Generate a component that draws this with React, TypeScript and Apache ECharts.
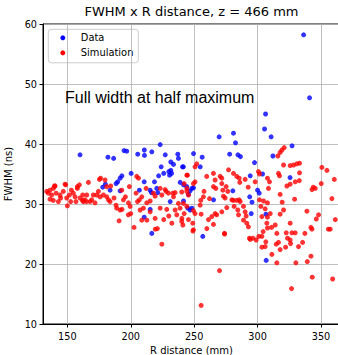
import React, { useEffect, useRef } from "react";
import * as echarts from "echarts";

const titleText = "FWHM x R distance, z = 466 mm";
const annotationText = "Full width at half maximum";
const xAxisName = "R distance (mm)";
const yAxisName = "FWHM (ns)";
const seriesNames = ["Data", "Simulation"];
const seriesColors = ["#0000ff", "#ff0000"];
const xTicks = [150, 200, 250, 300, 350];
const yTicks = [10, 20, 30, 40, 50, 60];

const dataPoints: [number, number][] = [
  [160, 38.2], [182, 37.8], [186.5, 37.6], [194.7, 38.9], [196.8, 38.8], [205.5, 38.3], [210.7, 39], [210.8, 38.1],
  [216.6, 38.7], [223.2, 39.9], [227.2, 38.2], [237.1, 38.3], [237.6, 37.6], [231.6, 37], [224, 36.2], [226, 35.1],
  [230, 35.4], [231.6, 35.6], [232.2, 35.1], [230.6, 34.8], [222, 34.7], [218.7, 33.7], [210.6, 33.7], [200.3, 35.1],
  [193, 34.7], [191.6, 34.3], [189.7, 33.7], [188.4, 33.4], [180, 33.3], [177.9, 32.8], [183.7, 32.3], [191.6, 32.2],
  [206.8, 32.3], [215.3, 32.3], [216.3, 31.9], [220.5, 32.6], [221.3, 31.9], [233.7, 36.6], [240.8, 36.2], [239, 33.6],
  [241.6, 33.2], [244.2, 32.9], [248.2, 32.6], [249.5, 32.7], [246.8, 32.2], [245.5, 31.6], [241.6, 30.5], [245, 29.3],
  [248.2, 29.3], [246.8, 29], [231.1, 30.4], [215.3, 29.1], [210.6, 27.8], [216.6, 25.1], [249.5, 38.4], [256.3, 37.8],
  [254.8, 36.2], [241.5, 36.2], [269.7, 41.2], [281, 41.8], [282.6, 40.2], [278, 38.3], [284.5, 38.2], [286.5, 37.9],
  [265.3, 30.7], [280.5, 32.2], [297.6, 36.9], [294.2, 34.7], [303.9, 35], [300, 32.3], [301.3, 31.8], [293.8, 31.2],
  [295.6, 30.3], [295, 28.4], [306.6, 28.3], [312.1, 38], [310.7, 41.2], [327.2, 39.7], [325.6, 34.4], [256.8, 24.6],
  [306.8, 20.6], [305.5, 42.5], [306.3, 45], [341, 47.7], [336.3, 58.2],
];

const simPoints: [number, number][] = [
  [133.7, 32.1], [135, 31.8], [136.3, 32.3], [137.6, 31.5], [138.9, 32.6], [140.3, 33], [136.3, 30.8], [138.9, 30.6],
  [141.1, 31.8], [142.9, 30.4], [144.2, 31.5], [144.7, 31], [146.8, 32.1], [148.2, 33.3], [149.5, 31], [150, 29.7],
  [151.6, 31.5], [152.6, 30.4], [154.7, 31.8], [156.1, 31.2], [156.8, 30.4], [157.9, 32.6], [159.5, 33.2], [160, 31],
  [162.1, 31.5], [162.6, 30.4], [163.9, 30.7], [166.6, 33.6], [165.3, 31.5], [167.9, 30.4], [169.2, 30.7], [170.5, 31.5],
  [171.8, 30.2], [173.2, 31.5], [174.5, 32.1], [175.3, 34.1], [175.8, 31.2], [178.4, 31.5], [179.7, 34], [181.1, 31.2],
  [182.4, 30.7], [183.7, 30.4], [184.2, 33], [186.8, 31], [188.9, 29.3], [191.6, 29], [190.8, 27.2], [192.9, 32.3],
  [194.2, 30.7], [195.8, 31.2], [198.2, 30.2], [199.5, 29.6], [200, 28.4], [198.9, 32.9], [202.6, 26.1], [204.7, 34.6],
  [206.1, 34.3], [206.8, 30.7], [208.7, 31.2], [207.4, 29], [210, 29.3], [212.1, 32.6], [212.6, 30.2], [215.3, 28.7],
  [219.2, 31.3], [219.3, 25.8], [221, 25.9], [217.9, 31.8], [223.2, 29.3], [224.5, 23.3], [227.1, 32.4], [228.4, 29.1],
  [229.7, 31.8], [233.2, 31.8], [233.7, 31.2], [235, 29], [237.6, 30.1], [236.3, 28.2], [238.9, 29.3], [232.4, 26.8],
  [240.3, 27.6], [241.1, 26.5], [244.2, 34.8], [245.5, 31.5], [244.2, 29.6], [245.5, 27.4], [242.1, 33.4],
  [223.2, 32.6], [224.5, 31.5], [227.9, 32.1], [235, 31.9], [215.3, 30.5], [219.2, 27.6], [212.7, 27.3], [230, 28],
  [226, 27.4], [139.9, 33], [148.7, 33.2], [153.2, 32.3], [157.9, 32.9], [161.9, 30.6], [165.1, 30.4], [176.2, 34.3],
  [181, 32.9], [188.4, 29.8], [193.1, 29.1], [198.1, 28.2], [204.2, 31.8], [205.3, 30.4], [208.7, 27.3],
  [316, 38], [317.8, 38.6], [319.2, 39], [321, 39.4], [320.5, 36.5], [325.7, 36.4], [328.4, 36.5], [331, 36.7],
  [333.1, 36.8], [333.1, 35.2], [316.5, 35.1], [317.3, 34.7], [329.7, 33.7], [332.9, 33.9], [323.1, 33], [325.7, 33.3],
  [350.7, 36.1], [354.7, 35.6], [350.2, 33.4], [345.5, 32.6], [342.9, 32.4], [358.6, 30.9], [317.8, 31.6], [329.2, 30.8],
  [338.9, 28.8], [346.3, 27.5], [348.1, 28.2], [361.3, 27.4], [357.3, 25.8], [342.9, 25.8], [325.7, 26.8], [317.8, 28.3],
  [320.5, 29], [310, 28.4], [307.8, 27.8], [313.9, 26.5], [322.6, 25.2], [327.1, 25.2], [329.7, 25.2], [323.6, 24.3],
  [325.7, 24], [332.3, 22.9], [316.5, 23.6], [315.2, 25.1], [306, 22.9], [301, 24.6], [298.9, 24], [296.3, 24.3],
  [294.2, 24.1], [307.8, 26], [303.4, 27.9], [307.3, 26.8], [306, 29.2], [301.5, 30.7], [304.7, 30.5], [307.8, 30.2],
  [302.6, 29.6], [290.2, 28.7], [291, 28], [288.9, 29.6], [286.3, 30.4], [285.5, 30.7], [283.6, 30.6], [281, 30.6],
  [279.7, 30.7], [281.5, 29.6], [284.4, 29], [288.9, 27.3], [291.5, 26.8], [292.8, 26.2], [285, 28.2], [273.1, 31.3],
  [274.4, 31], [275.7, 29.4], [271.8, 28.7], [267.8, 28.2], [266.5, 28.4], [263.9, 27.9], [261.3, 27.4], [255.5, 28.3],
  [249.4, 28.9], [250.7, 28.4], [242.1, 28.4], [240.2, 27.1], [248.9, 26.8], [249.4, 25.7], [260, 25.9], [265.2, 26.6],
  [273.9, 25.1], [293.6, 24.3], [303.4, 24.6], [306.5, 23.7], [241.5, 30.1], [240.2, 32], [244.2, 32.6], [244.2, 32.1],
  [249.4, 33.4], [250.7, 33.7], [257.8, 32.1], [257.3, 31.2], [255.2, 30.6], [254.7, 29.8], [262.1, 30.9], [265.2, 32.9],
  [267.1, 32.6], [266.5, 34], [270.5, 34.6], [271.8, 34.3], [277.1, 35.7], [281, 35.1], [283.6, 34.6], [285.5, 34.3],
  [265.2, 35.1], [259.9, 34.6], [244.7, 34.8], [252, 36.7], [250.7, 36.2], [271.8, 33.4], [275.2, 32.9], [276.5, 32.1],
  [272.6, 32.3], [300.7, 35.4], [301.5, 35], [307.8, 34.3], [309.4, 33.7], [308.6, 32.6], [298.1, 33.7], [290.2, 34.1],
  [360.5, 34.1], [343.9, 32.8], [355.8, 25.8], [342.1, 26.1], [319.4, 30.3], [292.6, 32.8], [286, 33.6],
  [303.4, 22.8], [314.7, 23.3], [317.8, 22.4], [322.1, 22.8], [326, 23.4], [335.5, 23.6], [311.3, 21.6], [315.2, 20.2],
  [330.2, 20.2], [339.2, 20.4], [342.1, 21.3], [343.1, 17.8], [359.2, 17.5], [326.8, 15.9], [270, 18.9], [255.5, 13.1],
  [304.4, 25.4], [311, 26.1], [337.3, 25.1], [274, 25], [249, 25.5],
];

export default function App() {
  const ref = useRef<HTMLDivElement>(null);
  useEffect(() => {
    if (!ref.current) return;
    const chart = echarts.init(ref.current, null, { renderer: "svg" });
    const font = "DejaVu Sans";
    const legendChildren: any[] = [
      {
        type: "rect",
        shape: { x: 0, y: 0, width: 90, height: 33.5, r: 3 },
        style: { fill: "rgba(255,255,255,0.85)", stroke: "#cccccc", lineWidth: 1 },
      },
    ];
    seriesNames.forEach((name, i) => {
      legendChildren.push({
        type: "circle",
        shape: { cx: 14.5, cy: 8.5 + i * 15, r: 2.5 },
        style: { fill: seriesColors[i] },
      });
      legendChildren.push({
        type: "text",
        x: 32.5,
        y: 8.5 + i * 15,
        style: {
          text: name,
          fontSize: 9.9,
          fontFamily: font,
          fill: "#000",
          verticalAlign: "middle",
        },
      });
    });
    chart.setOption({
      animation: false,
      backgroundColor: "#ffffff",
      title: {
        text: titleText,
        left: 191.5,
        top: 5,
        padding: 0,
        textAlign: "center",
        textStyle: { fontSize: 13, fontWeight: "normal", fontFamily: font, color: "#000" },
      },
      grid: {
        left: 43,
        top: 24,
        width: 297,
        height: 300,
        outerBoundsMode: "none",
        containLabel: false,
        show: true,
        borderColor: "#000",
        borderWidth: 1,
        backgroundColor: "transparent",
      },
      xAxis: {
        type: "value",
        min: 130.8,
        max: 365,
        name: xAxisName,
        nameLocation: "middle",
        nameGap: 21,
        nameTextStyle: { fontSize: 10, fontFamily: font, color: "#000" },
        axisLine: { show: true, lineStyle: { color: "#000", width: 1 } },
        axisTick: { show: true, length: 3.5, customValues: xTicks, lineStyle: { color: "#000" } },
        axisLabel: { customValues: xTicks, fontSize: 9.7, fontFamily: font, color: "#000", margin: 7 },
        splitLine: { show: true, lineStyle: { color: "#b0b0b0", width: 0.8 } },
      },
      yAxis: {
        type: "value",
        min: yTicks[0],
        max: yTicks[yTicks.length - 1],
        interval: 10,
        name: yAxisName,
        nameLocation: "middle",
        nameGap: 23,
        nameTextStyle: { fontSize: 10, fontFamily: font, color: "#000" },
        axisLine: { show: true, lineStyle: { color: "#000", width: 1 } },
        axisTick: { show: true, length: 3.5, lineStyle: { color: "#000" } },
        axisLabel: { fontSize: 9.7, fontFamily: font, color: "#000", margin: 6 },
        splitLine: { show: true, lineStyle: { color: "#b0b0b0", width: 0.8 } },
      },
      graphic: [
        {
          type: "group",
          x: 48.3,
          y: 29.3,
          z: 20,
          children: legendChildren,
        },
        {
          type: "text",
          x: 65,
          y: 97,
          z: 10,
          style: {
            text: annotationText,
            fontSize: 16,
            fontFamily: "Liberation Sans",
            fill: "#000",
            verticalAlign: "middle",
          },
        },
      ],
      series: [
        {
          name: seriesNames[0],
          type: "scatter",
          data: dataPoints,
          symbol: "circle",
          symbolSize: 5,
          itemStyle: { color: seriesColors[0] },
        },
        {
          name: seriesNames[1],
          type: "scatter",
          data: simPoints,
          symbol: "circle",
          symbolSize: 5,
          itemStyle: { color: seriesColors[1] },
        },
      ],
    });
    return () => chart.dispose();
  }, []);
  return (
    <div
      ref={ref}
      style={{ position: "absolute", left: 0, top: 0, width: 338, height: 355, background: "#fff" }}
    />
  );
}
